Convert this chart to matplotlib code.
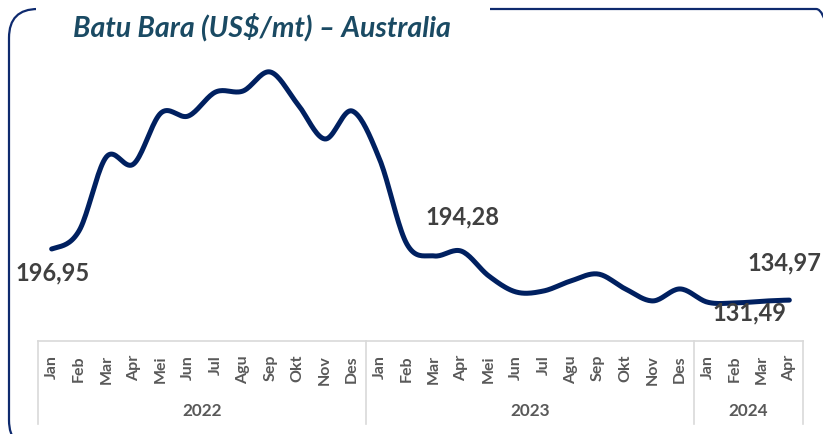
import numpy as np
import matplotlib.pyplot as plt
from matplotlib.patches import FancyBboxPatch, Rectangle
from matplotlib.lines import Line2D
from matplotlib.transforms import blended_transform_factory

# Data (US$/mt), Jan 2022 - Apr 2024
months = ['Jan', 'Feb', 'Mar', 'Apr', 'Mei', 'Jun', 'Jul', 'Agu', 'Sep', 'Okt', 'Nov', 'Des',
          'Jan', 'Feb', 'Mar', 'Apr', 'Mei', 'Jun', 'Jul', 'Agu', 'Sep', 'Okt', 'Nov', 'Des',
          'Jan', 'Feb', 'Mar', 'Apr']
years = ['2022', '2023', '2024']
year_counts = [12, 12, 4]
prices = [196.95, 218.8, 308.5, 300.0, 361.8, 358.1, 387.2, 388.4, 411.5, 372.7, 330.3, 364.2,
          306.0, 203.0, 188.5, 194.28, 164.2, 144.8, 146.0, 158.2, 166.6, 148.5, 134.0, 148.5,
          132.5, 131.49, 133.6, 134.97]
labels = {0: '196,95', 15: '194,28', 25: '131,49', 27: '134,97'}

W, H = 823, 435
fig = plt.figure(figsize=(W / 100, H / 100), dpi=100)
plt.rcParams['font.family'] = ['Lato', 'DejaVu Sans']


def fx(px):
    return px / W


def fy(py):
    return 1 - py / H


ax = fig.add_axes([fx(38), fy(342), fx(803) - fx(38), fy(30) - fy(342)])
ax.set_xlim(-0.5, len(prices) - 0.5)
ax.set_ylim(85.4, 463.6)
ax.axis('off')


# smoothed line like Excel (Catmull-Rom through the data points)
def smooth(y, n=20):
    y = np.asarray(y, float)
    p = np.concatenate([[y[0]], y, [y[-1]]])
    xs, ys = [], []
    for i in range(len(y) - 1):
        p0, p1, p2, p3 = p[i], p[i + 1], p[i + 2], p[i + 3]
        t = np.linspace(0, 1, n, endpoint=False)
        v = 0.5 * (2 * p1 + (-p0 + p2) * t + (2 * p0 - 5 * p1 + 4 * p2 - p3) * t ** 2
                   + (-p0 + 3 * p1 - 3 * p2 + p3) * t ** 3)
        xs.append(i + t)
        ys.append(v)
    xs.append([len(y) - 1])
    ys.append([y[-1]])
    return np.concatenate(xs), np.concatenate(ys)


sx, sy = smooth(prices)
ax.plot(sx, sy, color='#002060', lw=3.6, solid_capstyle='round', clip_on=False)

# data labels
label_pos = {0: (53, 273), 15: (462, 217), 25: (749, 313), 27: (784, 263)}
for i, txt in labels.items():
    px, py = label_pos[i]
    fig.text(fx(px), fy(py), txt, ha='center', va='center', fontsize=17,
             fontweight='bold', color='#404040')

# category axis box
grid_c = '#d9d9d9'
tr = blended_transform_factory(ax.transData, fig.transFigure)
fig.add_artist(Line2D([fx(38), fx(803)], [fy(342), fy(342)], color=grid_c, lw=1.2))
bounds = [-0.5]
for c in year_counts:
    bounds.append(bounds[-1] + c)
for b in bounds:
    fig.add_artist(Line2D([b, b], [fy(342), fy(425)], color=grid_c, lw=1.2, transform=tr))
for i, m in enumerate(months):
    fig.text(i, fy(355), m, rotation=90, ha='center', va='top', fontsize=11.5,
             fontweight='bold', color='#595959', transform=tr)
for k, yr in enumerate(years):
    mid = (bounds[k] + bounds[k + 1]) / 2
    fig.text(mid, fy(411), yr, ha='center', va='center', fontsize=12.3,
             fontweight='bold', color='#595959', transform=tr)

# rounded border with gap for title
border = FancyBboxPatch((fx(9), fy(450)), fx(845) - fx(9), fy(10) - fy(450),
                        boxstyle='round,pad=0,rounding_size=0.035', transform=fig.transFigure,
                        fill=False, ec='#0e2a6e', lw=1.6, mutation_aspect=W / H)
fig.add_artist(border)
fig.add_artist(Rectangle((fx(36), fy(16)), fx(490) - fx(36), fy(4) - fy(16),
                         transform=fig.transFigure, fc='white', ec='none'))

fig.text(fx(73), fy(27), 'Batu Bara (US$/mt) \u2013 Australia', ha='left', va='center',
         fontsize=20.5, fontweight='bold', fontstyle='italic', color='#1a4a63')

plt.savefig('out.png', dpi=100)
